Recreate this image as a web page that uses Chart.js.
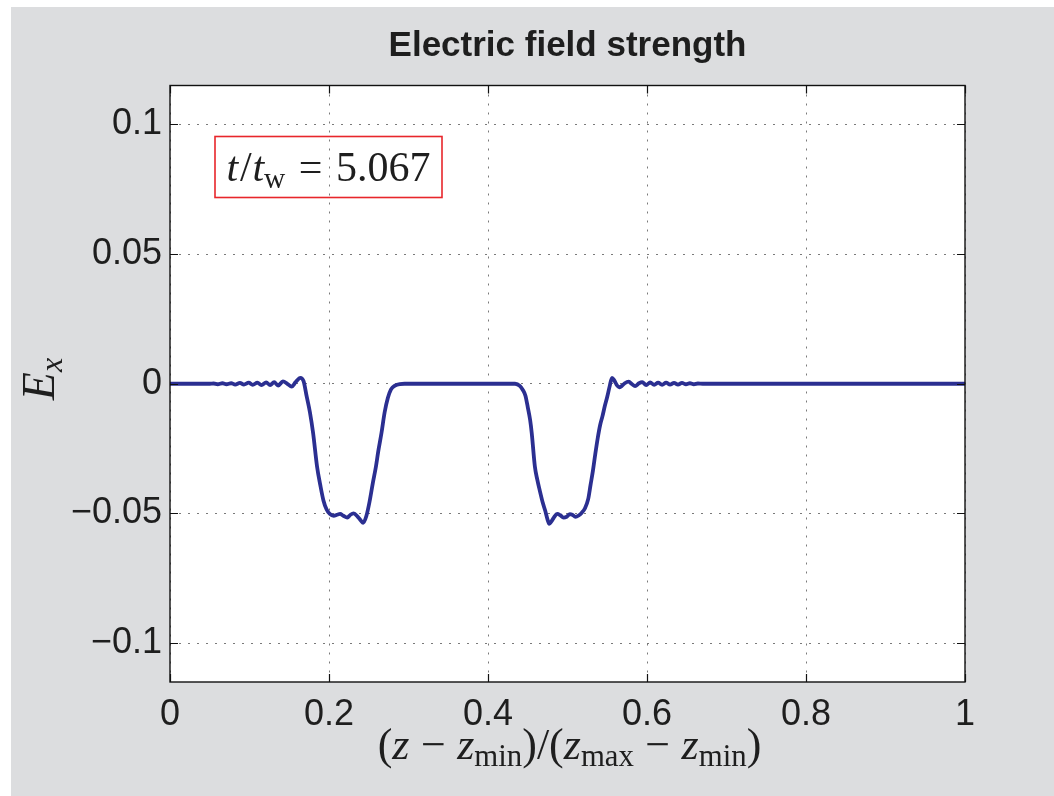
<!DOCTYPE html>
<html><head><meta charset="utf-8">
<script src="https://cdn.jsdelivr.net/npm/chart.js@4/dist/chart.umd.min.js"></script>
<style>html,body{margin:0;padding:0;background:#fff}canvas{display:block}</style>
</head><body>
<canvas id="c" width="1054" height="796"></canvas>
<script>
const chartTitle = 'Electric field strength';
const timeValue = '5.067';
const xTickValues = [0, 0.2, 0.4, 0.6, 0.8, 1];
const yTickValues = [-0.1, -0.05, 0, 0.05, 0.1];
const zPos = [
  0, 0.05, 0.055, 0.060, 0.066, 0.071, 0.077, 0.082, 0.088, 0.093, 0.099, 0.104, 0.110, 0.115, 0.121, 0.126,
  0.131, 0.136, 0.142, 0.148, 0.153, 0.158, 0.164, 0.168, 0.172, 0.176, 0.180, 0.185, 0.189, 0.193, 0.197,
  0.201, 0.206, 0.210, 0.214, 0.218, 0.223, 0.227, 0.231, 0.236, 0.240, 0.243, 0.247, 0.251, 0.255, 0.259,
  0.262, 0.266, 0.270, 0.274, 0.278, 0.283, 0.289, 0.295,
  0.434, 0.440, 0.444, 0.447, 0.450, 0.453, 0.455, 0.459, 0.462, 0.465, 0.469, 0.472, 0.475, 0.477, 0.480,
  0.483, 0.487, 0.491, 0.495, 0.499, 0.503, 0.506, 0.510, 0.514, 0.518, 0.522, 0.526, 0.529, 0.532, 0.535,
  0.538, 0.541, 0.544, 0.547, 0.550, 0.553, 0.556, 0.559, 0.562, 0.565, 0.568, 0.572, 0.577, 0.581, 0.585,
  0.590, 0.594, 0.599, 0.604, 0.609, 0.614, 0.619, 0.624, 0.629, 0.634, 0.639, 0.644, 0.649, 0.654, 0.659,
  0.664, 0.670, 1.0
];
const exValues = [
  0, 0, 0.0001, -0.0002, 0.0002, -0.0002, 0.0002, -0.0003, 0.0003, -0.0003, 0.0004, -0.0004, 0.0004, -0.0005, 0.0005, -0.0005,
  0.0006, -0.0007, 0.0009, -0.0001, -0.0011, 0.0006, 0.0023, 0.0010, -0.005, -0.011, -0.019, -0.032, -0.039, -0.045, -0.0485,
  -0.0502, -0.0509, -0.0505, -0.0502, -0.0509, -0.0516, -0.0505, -0.0500, -0.0512, -0.0527, -0.0536, -0.051, -0.0455, -0.0385, -0.032,
  -0.026, -0.019, -0.011, -0.0055, -0.0022, -0.0007, -0.0001, 0,
  0, -0.0008, -0.0025, -0.0045, -0.009, -0.014, -0.019, -0.032, -0.037, -0.041, -0.046, -0.049, -0.0525, -0.054, -0.053,
  -0.0515, -0.0502, -0.0507, -0.0516, -0.0513, -0.0503, -0.0505, -0.0513, -0.0508, -0.0497, -0.048, -0.0445, -0.039, -0.0335, -0.027,
  -0.021, -0.016, -0.0125, -0.0085, -0.0050, -0.001, 0.0023, 0.0012, -0.0005, -0.0014, -0.0009, 0.0002, 0.0008, -0.0001, -0.0009,
  0.0002, 0.0006, -0.0005, 0.0005, -0.0004, 0.0004, -0.0004, 0.0004, -0.0003, 0.0003, -0.0003, 0.0003, -0.0002, 0.0002, -0.0002,
  0.0001, 0, 0
];

const W = 1054, H = 796;
const SERIF = '"Liberation Serif", "DejaVu Serif", serif';
const SANS = '"Liberation Sans", Arial, sans-serif';

function drawMath(ctx, segs, size, cx, baseY) {
  const items = segs.map(s => {
    const fs = s.sub ? size * 0.7 : size;
    const font = (s.it ? 'italic ' : '') + fs + 'px ' + SERIF;
    ctx.font = font;
    const w = ctx.measureText(s.t).width;
    return { t: s.t, sub: s.sub, font, w, pre: (s.g || 0) * size + (s.pre || 0) * size, post: (s.g || 0) * size };
  });
  const total = items.reduce((a, i) => a + i.pre + i.w + i.post, 0);
  let x = cx - total / 2;
  ctx.textAlign = 'left';
  ctx.textBaseline = 'alphabetic';
  for (const i of items) {
    x += i.pre;
    ctx.font = i.font;
    ctx.fillText(i.t, x, baseY + (i.sub ? size * 0.17 : 0));
    x += i.w + i.post;
  }
  return total;
}

const framePlugin = {
  id: 'framePlugin',
  beforeDraw(chart) {
    const { ctx, chartArea: a } = chart;
    ctx.save();
    ctx.fillStyle = '#ffffff';
    ctx.fillRect(0, 0, W, H);
    ctx.fillStyle = '#dcdddf';
    ctx.fillRect(11, 7, W - 11, H - 7);
    ctx.fillStyle = '#ffffff';
    ctx.fillRect(a.left, a.top, a.right - a.left, a.bottom - a.top);
    ctx.restore();
  },
  afterDraw(chart) {
    const { ctx, chartArea: a, scales } = chart;
    const xs = scales.x, ys = scales.y;
    ctx.save();
    // inward ticks
    ctx.strokeStyle = '#111';
    ctx.lineWidth = 1.2;
    ctx.beginPath();
    xTickValues.forEach(v => {
      const px = Math.round(xs.getPixelForValue(v)) + 0.5;
      ctx.moveTo(px, a.bottom); ctx.lineTo(px, a.bottom - 8);
      ctx.moveTo(px, a.top); ctx.lineTo(px, a.top + 8);
    });
    yTickValues.forEach(v => {
      const py = Math.round(ys.getPixelForValue(v)) + 0.5;
      ctx.moveTo(a.left, py); ctx.lineTo(a.left + 8, py);
      ctx.moveTo(a.right, py); ctx.lineTo(a.right - 8, py);
    });
    ctx.stroke();
    // frame
    ctx.lineWidth = 1.4;
    ctx.strokeRect(a.left, a.top, a.right - a.left, a.bottom - a.top);

    // annotation box
    ctx.strokeStyle = '#e8262b';
    ctx.lineWidth = 1.6;
    ctx.strokeRect(a.left + 45, a.top + 51, 227, 61);
    ctx.fillStyle = '#1e1e1e';
    drawMath(ctx, [
      { t: 't', it: true }, { t: '/', pre: 0.04 }, { t: 't', it: true, pre: 0.02 }, { t: 'w', sub: true },
      { t: '=', g: 0.32 }, { t: timeValue }
    ], 42, a.left + 45 + 227 / 2, a.top + 95);

    // x axis title
    const cx = (a.left + a.right) / 2;
    drawMath(ctx, [
      { t: '(' }, { t: 'z', it: true }, { t: '\u2212', g: 0.26 }, { t: 'z', it: true }, { t: 'min', sub: true },
      { t: ')' }, { t: '/' }, { t: '(' }, { t: 'z', it: true }, { t: 'max', sub: true },
      { t: '\u2212', g: 0.26 }, { t: 'z', it: true }, { t: 'min', sub: true }, { t: ')' }
    ], 44, cx + 2, 759);

    // y axis title
    ctx.translate(54, 379);
    ctx.rotate(-Math.PI / 2);
    drawMath(ctx, [{ t: 'E', it: true }, { t: 'x', it: true, sub: true }], 46, 0, 0);
    ctx.restore();
  }
};

const fmtY = v => String(+(+v).toFixed(2)).replace('-', '\u2212');
const fmtX = v => String(+(+v).toFixed(1));

new Chart(document.getElementById('c'), {
  type: 'line',
  data: {
    datasets: [{
      data: zPos.map((x, i) => ({ x, y: exValues[i] })),
      borderColor: '#2b2f91',
      borderWidth: 3.8,
      pointRadius: 0,
      fill: false,
      cubicInterpolationMode: 'monotone'
    }]
  },
  options: {
    responsive: false,
    animation: false,
    devicePixelRatio: 1,
    layout: { padding: { left: 0, top: 0, right: 89, bottom: 0 } },
    plugins: {
      legend: { display: false },
      tooltip: { enabled: false },
      title: {
        display: true,
        text: chartTitle,
        fullSize: false,
        color: '#1e1e1e',
        font: { family: SANS, size: 35, weight: 'bold', lineHeight: 1.2 },
        padding: { top: 25, bottom: 18.5 }
      }
    },
    scales: {
      x: {
        type: 'linear', min: 0, max: 1,
        afterBuildTicks: s => { s.ticks = xTickValues.map(v => ({ value: v })); },
        afterFit: s => { s.height = 114; },
        ticks: { callback: fmtX, color: '#1e1e1e', font: { family: SANS, size: 36 }, padding: 11, maxRotation: 0, autoSkip: false },
        grid: { color: '#7a7a7a', lineWidth: 1, drawTicks: false },
        border: { display: false, dash: [2, 7] }
      },
      y: {
        type: 'linear', min: -0.115, max: 0.115,
        afterBuildTicks: s => { s.ticks = yTickValues.map(v => ({ value: v })); },
        afterFit: s => { s.width = 170; },
        ticks: { callback: fmtY, color: '#1e1e1e', font: { family: SANS, size: 36 }, padding: 8, autoSkip: false },
        grid: { color: '#7a7a7a', lineWidth: 1, drawTicks: false },
        border: { display: false, dash: [2, 7] }
      }
    }
  },
  plugins: [framePlugin]
});
</script>
</body></html>
